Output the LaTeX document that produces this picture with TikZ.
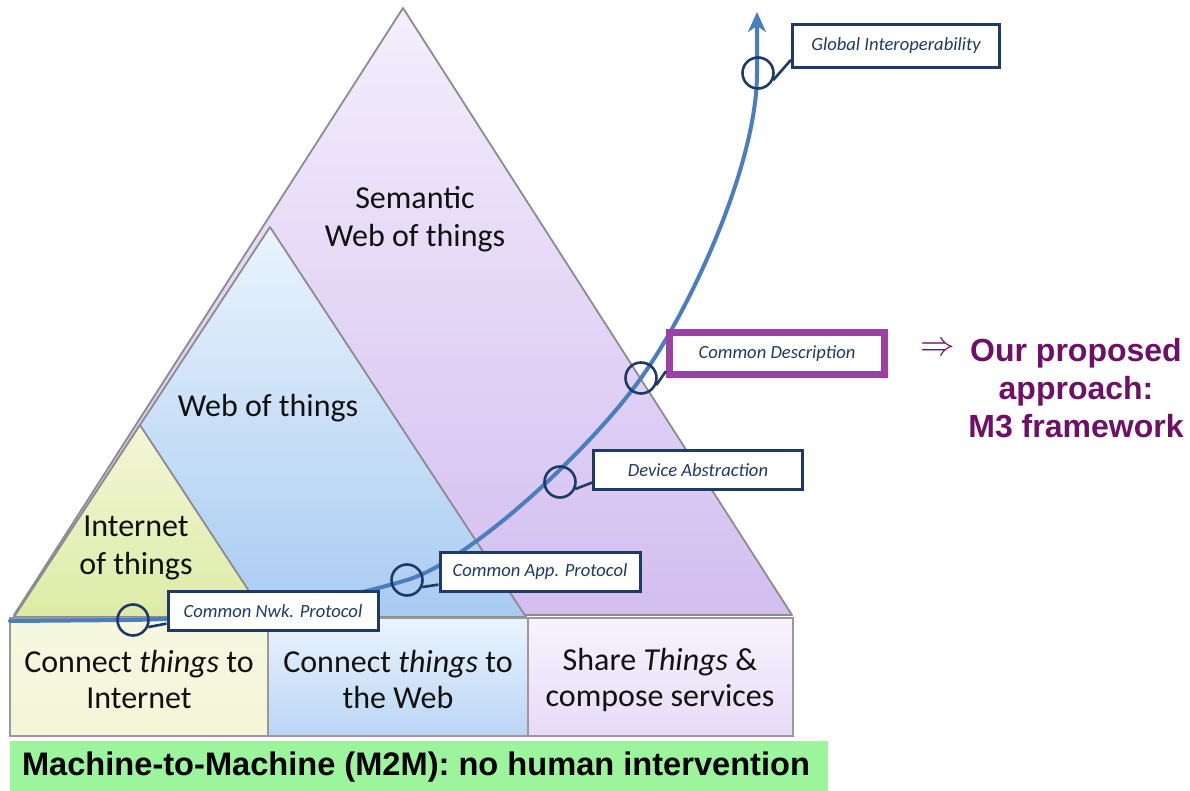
\documentclass[tikz,border=0pt]{standalone}
\usepackage{fontspec}
\setmainfont{Carlito}
\newfontfamily\arialfont{Liberation Sans}
\usetikzlibrary{calc,arrows.meta}
\definecolor{curveblue}{HTML}{4A7EBF}
\definecolor{navy}{HTML}{1F3A66}
\definecolor{cdpurple}{HTML}{9E3FA6}
\definecolor{m3purple}{HTML}{6E0F68}
\definecolor{mgreen}{HTML}{9CF59C}
\definecolor{yelA}{HTML}{F3F6D8}
\definecolor{yelB}{HTML}{DDEBA6}
\definecolor{bluA}{HTML}{EAF4FD}
\definecolor{bluB}{HTML}{A9CBF2}
\definecolor{purA}{HTML}{F4EEFC}
\definecolor{purB}{HTML}{D3BEF0}
\definecolor{txt}{HTML}{111111}
\begin{document}
\begin{tikzpicture}[x=0.5pt,y=-0.5pt,
  tri/.style={draw=black!45, line width=0.9pt, line join=round},
  rowbox/.style={draw=black!40, line width=0.9pt},
  trilabel/.style={font=\fontsize{16}{19}\selectfont, text=txt, align=center},
  rowlabel/.style={font=\fontsize{16}{18}\selectfont, text=txt, align=center},
  lbl/.style={draw=navy, line width=1.5pt, fill=white, text=navy,
    font=\fontsize{9.3}{11}\selectfont\itshape, inner sep=0pt, minimum height=19.5pt},
  ring/.style={circle, draw=navy, line width=1.3pt, minimum size=15.5pt, inner sep=0pt},
  link/.style={draw=navy, line width=1.3pt},
  growth/.style={draw=curveblue, line width=2pt, line cap=round}
]
\useasboundingbox (0,0) rectangle (1190,791);

% triangles
\shade[tri, top color=purA, bottom color=purB] (14,615) -- (403,8) -- (792,615) -- cycle;
\shade[tri, top color=bluA, bottom color=bluB] (14,617) -- (270,227) -- (526,617) -- cycle;
\shade[tri, top color=yelA, bottom color=yelB] (14,617) -- (140,425) -- (266,617) -- cycle;

\node[trilabel] (sem) at (415,219) {Semantic\\Web of things};
\node[trilabel] (wot) at (268,408) {Web of things};
\node[trilabel] (iot) at (136,548) {Internet\\of things};

% bottom row boxes
\shade[rowbox, top color=yelA!80!white, bottom color=yelA] (10,618) rectangle (268,736);
\shade[rowbox, top color=bluA, bottom color=bluB!80!white] (268,618) rectangle (528,736);
\shade[rowbox, top color=purA!70!white, bottom color=purB!55!white] (528,618) rectangle (793,736);
\node[rowlabel] (r1) at (139,680) {Connect \textit{things} to\\Internet};
\node[rowlabel] (r2) at (398,680) {Connect \textit{things} to\\the Web};
\node[rowlabel] (r3) at (660,680) {Share \textit{Things} \&\\compose services};

% green bar
\fill[mgreen] (10,741) rectangle (828,791);
\node[font=\arialfont\bfseries\fontsize{16.3}{19}\selectfont, text=black] (m2m) at (416,767)
  {Machine-to-Machine (M2M): no human intervention};

% growth curve
\draw[growth, -{Stealth[length=10pt,width=9pt,inset=3pt]}]
  (10,621) -- (130,620)
  .. controls (250,618) and (340,600) .. (407,580)
  .. controls (470,561) and (590,450) .. (641,378)
  .. controls (690,310) and (757,165) .. (757,73)
  -- (757,12);

% rings and labels
\node[ring] (c1) at (133,620) {};
\node[ring] (c2) at (407,580) {};
\node[ring] (c3) at (560,482) {};
\node[ring] (c4) at (641,378) {};
\node[ring] (c5) at (758,73) {};

\node[lbl, minimum width=105pt] (b1) at (273,611) {Common Nwk. Protocol};
\node[lbl, minimum width=100pt] (b2) at (540,572) {Common App. Protocol};
\node[lbl, minimum width=104.5pt] (b3) at (698,470) {Device Abstraction};
\node[lbl, draw=cdpurple, line width=3.5pt, minimum width=107.5pt, minimum height=21pt] (b4) at (777,354) {Common Description};
\node[lbl, minimum width=103.5pt, minimum height=21.5pt] (b5) at (896,46) {Global Interoperability};

\draw[link] (c1.-25) -- ($(b1.south west)!0.2!(b1.north west)$);
\draw[link] (c2.-25) -- ($(b2.south west)!0.2!(b2.north west)$);
\draw[link] (c3.-25) -- ($(b3.south west)!0.2!(b3.north west)$);
\draw[link] (c4.-25) -- ($(b4.south west)!0.15!(b4.north west)$);
\draw[link] (c5.-25) -- ($(b5.south west)!0.2!(b5.north west)$);

% proposed approach
\node[font=\arialfont\bfseries\fontsize{16}{19}\selectfont, text=m3purple, align=center] (m3) at (1076,388)
  {Our proposed\\approach:\\M3 framework};
\node[text=m3purple, font=\fontsize{16}{19}\selectfont, anchor=east] (imp) at (962,349) {$\Rightarrow$};
\end{tikzpicture}
\end{document}
